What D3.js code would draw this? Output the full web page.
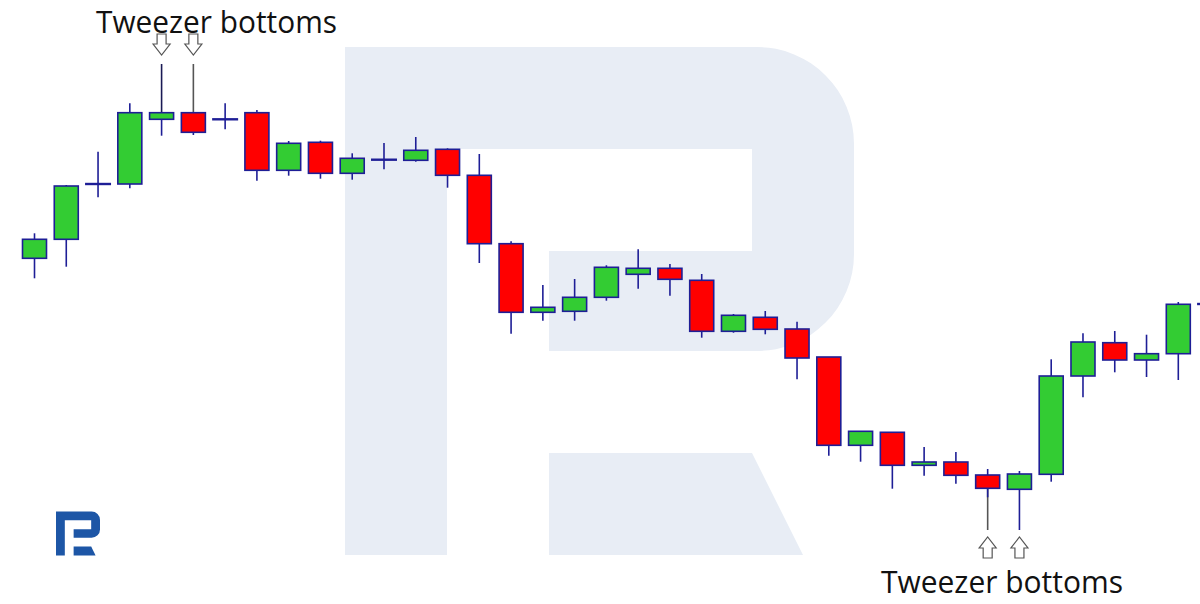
<!DOCTYPE html>
<html>
<head>
<meta charset="utf-8">
<script src="https://cdn.jsdelivr.net/npm/d3@7/dist/d3.min.js"></script>
<style>
  html, body { margin: 0; padding: 0; background: #ffffff; }
  svg { display: block; }
</style>
</head>
<body>
<div id="chart"></div>
<script>
// ---- Data (price units are arbitrary) ----
const candleIndex = d3.range(38);
const opens  = [34.17, 36.07, 41.60, 41.60, 48.07, 48.73, 48.07, 48.73, 42.97, 45.77,
                42.67, 44.03, 43.97, 45.07, 42.47, 35.63, 28.77, 28.87, 30.27, 32.57,
                33.17, 31.97, 26.87, 28.27, 27.10, 24.30, 15.47, 16.77, 13.47, 13.80,
                12.50, 11.07, 12.57, 22.40, 25.73, 24.00, 24.63, 29.60];
const highs  = [36.67, 41.50, 44.83, 49.67, 53.60, 53.60, 49.67, 49.00, 45.90, 45.93,
                44.67, 45.70, 46.30, 45.17, 44.60, 35.87, 31.50, 32.10, 33.47, 35.07,
                33.60, 32.60, 28.60, 28.90, 27.83, 24.30, 16.87, 16.77, 15.30, 14.80,
                13.10, 12.90, 24.07, 26.67, 26.90, 26.53, 29.80, 29.60];
const lows   = [32.17, 33.33, 40.27, 41.17, 46.43, 46.50, 47.07, 41.93, 42.43, 42.13,
                42.03, 43.07, 43.83, 41.23, 33.70, 26.63, 27.93, 27.93, 29.93, 31.13,
                30.43, 26.23, 26.73, 26.57, 22.07, 14.43, 13.83, 11.13, 12.43, 11.63,
                7.00, 7.00, 11.83, 20.27, 22.77, 22.30, 22.00, 29.60];
const closes = [36.07, 41.40, 41.60, 48.73, 48.73, 46.77, 48.07, 42.97, 45.67, 42.67,
                44.17, 44.03, 44.97, 42.47, 35.63, 28.77, 29.27, 30.27, 33.27, 33.17,
                32.07, 26.87, 28.47, 27.07, 24.20, 15.47, 16.87, 13.47, 13.80, 12.47,
                11.17, 12.60, 22.40, 25.80, 24.00, 24.63, 29.57, 29.60];

const topTweezers = [4, 5];      // marked from above
const bottomTweezers = [30, 31]; // marked from below
const annotationText = "Tweezer bottoms";

// ---- Layout ----
const W = 1200, H = 604;
const svg = d3.select("#chart").append("svg")
  .attr("width", W).attr("height", H)
  .attr("viewBox", `0 0 ${W} ${H}`);

const x = d3.scaleLinear().domain([0, 36]).range([34.5, 1178.3]);
const y = d3.scaleLinear().domain([0, 60]).range([600, 0]);
const bodyW = 24;

const navy = "#1e1e96";
const green = "#33cc33";
const red = "#ff0000";

// ---- Watermark R (background) ----
const rOuter = "M0,0 H412 A97,97 0 0 1 509,97 V207 A97,97 0 0 1 412,304 H204 V204 H407 V102 H102 V508 H0 Z";
const rLeg = "M204,406 H407 L458,508 H204 Z";

const wm = svg.append("g").attr("transform", "translate(345,47)");
wm.append("path").attr("d", rOuter).attr("fill", "#e8edf5");
wm.append("path").attr("d", rLeg).attr("fill", "#e8edf5");

// ---- Logo (bottom-left) ----
const logoScale = 44 / 509;
const logo = svg.append("g").attr("transform", `translate(56,511.5) scale(${logoScale})`);
logo.append("path").attr("d", rOuter).attr("fill", "#1d56a6");
logo.append("path").attr("d", rLeg).attr("fill", "#1d56a6");

// ---- Candles ----
const data = candleIndex.map(i => ({
  i, o: opens[i], h: highs[i], l: lows[i], c: closes[i]
}));

const g = svg.append("g");

const candle = g.selectAll("g.candle").data(data).enter().append("g").attr("class", "candle");

// upper wick
candle.append("line")
  .attr("x1", d => x(d.i)).attr("x2", d => x(d.i))
  .attr("y1", d => y(d.h)).attr("y2", d => y(Math.max(d.o, d.c)))
  .attr("stroke", d => d.i === 5 ? "#555555" : (d.i === 4 ? "#1a1a55" : navy))
  .attr("stroke-width", 1.6);

// lower wick
candle.append("line")
  .attr("x1", d => x(d.i)).attr("x2", d => x(d.i))
  .attr("y1", d => y(Math.min(d.o, d.c))).attr("y2", d => y(d.l))
  .attr("stroke", d => d.i === 30 ? "#555555" : navy)
  .attr("stroke-width", 1.6);

// extra navy segment on the red tweezer-bottom candle near the body
candle.filter(d => d.i === 30).append("line")
  .attr("x1", d => x(d.i)).attr("x2", d => x(d.i))
  .attr("y1", d => y(Math.min(d.o, d.c))).attr("y2", d => y(Math.min(d.o, d.c)) + 9)
  .attr("stroke", navy).attr("stroke-width", 1.6);

// bodies (non-doji)
candle.filter(d => d.o !== d.c).append("rect")
  .attr("x", d => x(d.i) - bodyW / 2)
  .attr("width", bodyW)
  .attr("y", d => y(Math.max(d.o, d.c)))
  .attr("height", d => Math.max(1, Math.abs(y(d.o) - y(d.c))))
  .attr("fill", d => d.c > d.o ? green : red)
  .attr("stroke", navy)
  .attr("stroke-width", 1.6);

// doji cross bars
candle.filter(d => d.o === d.c).append("line")
  .attr("x1", d => x(d.i) - bodyW / 2 - 1).attr("x2", d => x(d.i) + bodyW / 2 + 1)
  .attr("y1", d => y(d.o)).attr("y2", d => y(d.o))
  .attr("stroke", navy).attr("stroke-width", 2.4);

// ---- Annotation arrows ----
function arrowDown(cx, tipY) {
  const y0 = tipY - 21;
  return `M${cx - 4.5},${y0} H${cx + 4.5} V${y0 + 10} H${cx + 8.5} L${cx},${tipY} L${cx - 8.5},${y0 + 10} H${cx - 4.5} Z`;
}
function arrowUp(cx, tipY) {
  const y0 = tipY + 21;
  return `M${cx - 4.5},${y0} H${cx + 4.5} V${tipY + 11} H${cx + 8.5} L${cx},${tipY} L${cx - 8.5},${tipY + 11} H${cx - 4.5} Z`;
}

svg.append("g").selectAll("path")
  .data(topTweezers).enter().append("path")
  .attr("d", i => arrowDown(x(i), y(highs[i]) - 9))
  .attr("fill", "#ffffff").attr("stroke", "#555555").attr("stroke-width", 1.2);

svg.append("g").selectAll("path")
  .data(bottomTweezers).enter().append("path")
  .attr("d", i => arrowUp(x(i), y(lows[i]) + 7))
  .attr("fill", "#ffffff").attr("stroke", "#555555").attr("stroke-width", 1.2);

// ---- Annotation labels ----
svg.append("text")
  .attr("x", 96).attr("y", 33.3)
  .attr("font-family", "'Open Sans', Lato, sans-serif")
  .attr("font-size", 31)
  .attr("fill", "#111111")
  .attr("textLength", 241).attr("lengthAdjust", "spacingAndGlyphs")
  .text(annotationText);

svg.append("text")
  .attr("x", 881).attr("y", 593)
  .attr("font-family", "'Open Sans', Lato, sans-serif")
  .attr("font-size", 31)
  .attr("fill", "#111111")
  .attr("textLength", 242).attr("lengthAdjust", "spacingAndGlyphs")
  .text(annotationText);
</script>
</body>
</html>
